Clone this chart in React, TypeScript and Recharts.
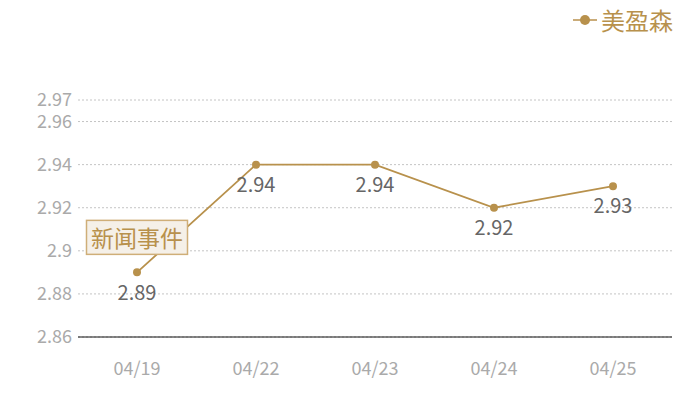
import React from "react";
import { LineChart, Line, XAxis, YAxis, CartesianGrid, LabelList } from "recharts";

const dates = ["04/19", "04/22", "04/23", "04/24", "04/25"];
const prices = [2.89, 2.94, 2.94, 2.92, 2.93];
const events = ["新闻事件", "", "", "", ""];
const yTicks = [2.86, 2.88, 2.9, 2.92, 2.94, 2.96, 2.97];
const seriesName = "美盈森";

const GOLD = "#b8914c";
const FONT = "'Noto Sans CJK SC', 'Open Sans', sans-serif";

const data = dates.map((d, i) => ({ date: d, price: prices[i], event: events[i] }));

// boxed event tag drawn above the point it belongs to
function EventTag(props: any) {
  const { x, y, index } = props;
  const text = events[index];
  if (!text) return null;
  const w = 101;
  const h = 34;
  return (
    <g>
      <rect x={x - w / 2} y={y - 52} width={w} height={h} fill="#f5f0e8" stroke="#cfae78" strokeWidth={1.5} />
      <text x={x} y={y - 35} textAnchor="middle" dominantBaseline="central" fontSize={23} fill={GOLD} fontFamily={FONT}>
        {text}
      </text>
    </g>
  );
}

export default function App() {
  return (
    <div style={{ position: "absolute", left: 0, top: 0, width: 700, height: 400, fontFamily: FONT, background: "#fff" }}>
      <div style={{ position: "absolute", top: 5, left: 572, display: "flex", alignItems: "center", color: GOLD, fontSize: 24 }}>
        <svg width={28} height={20}>
          <line x1={1} y1={10} x2={25} y2={10} stroke={GOLD} strokeWidth={1.5} />
          <circle cx={13} cy={10} r={5} fill={GOLD} />
        </svg>
        <span style={{ marginLeft: 1, lineHeight: "30px" }}>{seriesName}</span>
      </div>
      <LineChart width={700} height={400} data={data} margin={{ top: 100, right: 28, left: 0, bottom: 0 }}>
        <CartesianGrid vertical={false} stroke="#c4c4c4" strokeDasharray="2 2" />
        <XAxis
          dataKey="date"
          padding={{ left: 59, right: 59 }}
          axisLine={{ stroke: "#111", strokeWidth: 1 }}
          tickLine={false}
          tickMargin={19}
          height={63}
          tick={{ fill: "#aaa", fontSize: 18, fontFamily: FONT }}
        />
        <YAxis
          domain={[2.86, 2.97]}
          ticks={yTicks}
          interval={0}
          width={78}
          axisLine={false}
          tickLine={false}
          tickMargin={0}
          tick={{ fill: "#aaa", fontSize: 18, fontFamily: FONT }}
        />
        <Line
          dataKey="price"
          name={seriesName}
          type="linear"
          stroke={GOLD}
          strokeWidth={1.8}
          dot={{ r: 4, fill: GOLD, stroke: "none" }}
          activeDot={false}
          isAnimationActive={false}
        >
          <LabelList dataKey="price" position="bottom" offset={13} fill="#666" fontSize={20} fontFamily={FONT} />
          <LabelList dataKey="event" content={<EventTag />} />
        </Line>
      </LineChart>
    </div>
  );
}
